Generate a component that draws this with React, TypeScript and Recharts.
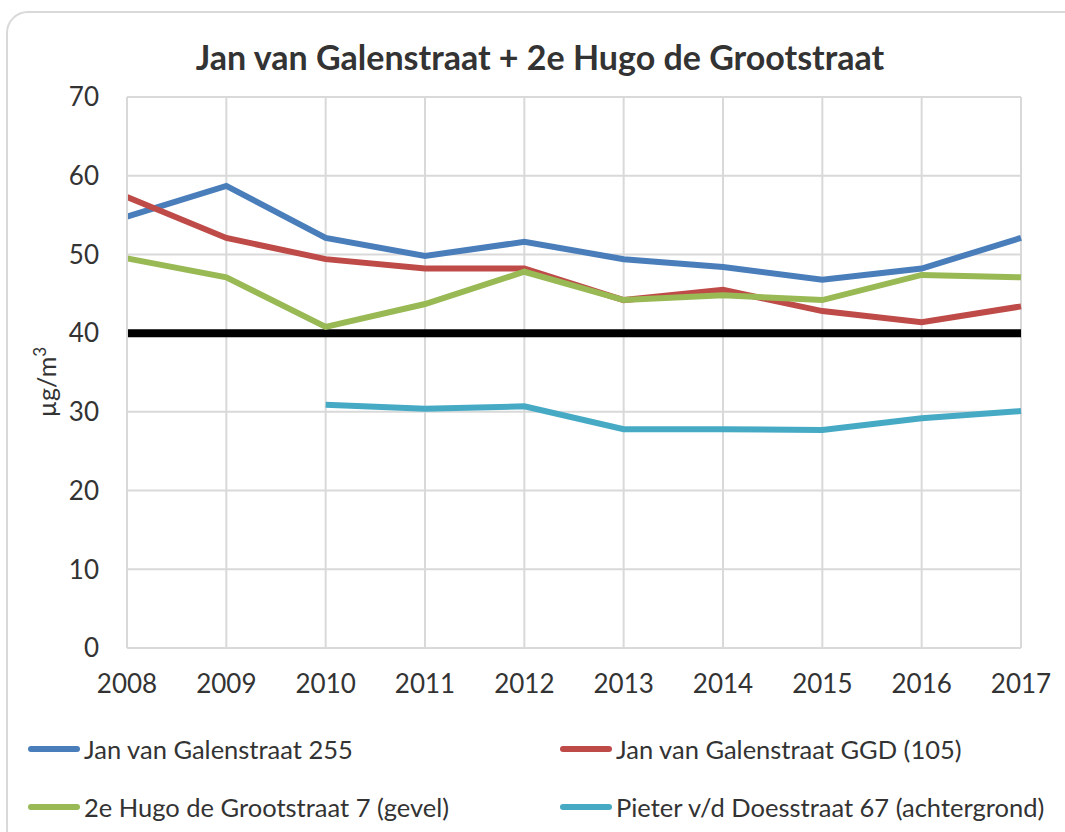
import { LineChart, Line, XAxis, YAxis, CartesianGrid, ReferenceLine } from "recharts";

const years = ["2008", "2009", "2010", "2011", "2012", "2013", "2014", "2015", "2016", "2017"];
const galen255 = [54.8, 58.7, 52.1, 49.8, 51.6, 49.4, 48.4, 46.8, 48.2, 52.1];
const galenGgd = [57.3, 52.1, 49.4, 48.2, 48.2, 44.2, 45.5, 42.8, 41.4, 43.4];
const hugo7 = [49.5, 47.1, 40.8, 43.7, 47.8, 44.2, 44.8, 44.2, 47.4, 47.1];
const doesstraat = [null, null, 30.9, 30.4, 30.7, 27.8, 27.8, 27.7, 29.2, 30.1];
const norm = 40;
const yTicks = [0, 10, 20, 30, 40, 50, 60, 70];

const series = [
  { key: "galen255", name: "Jan van Galenstraat 255", color: "#4a7ebb" },
  { key: "galenGgd", name: "Jan van Galenstraat GGD (105)", color: "#be4b48" },
  { key: "hugo7", name: "2e Hugo de Grootstraat 7 (gevel)", color: "#98b954" },
  { key: "doesstraat", name: "Pieter v/d Doesstraat 67 (achtergrond)", color: "#46aac5" },
];

const data = years.map((year, i) => ({
  year,
  galen255: galen255[i],
  galenGgd: galenGgd[i],
  hugo7: hugo7[i],
  doesstraat: doesstraat[i],
}));

const font = "Lato, 'Open Sans', sans-serif";

export default function App() {
  return (
    <div style={{ position: "absolute", left: 0, top: 0, width: 1065, height: 832, overflow: "hidden", background: "#fff", fontFamily: font }}>
      <div
        style={{
          position: "absolute",
          left: 6,
          top: 11,
          width: 1080,
          height: 840,
          border: "2px solid #d9d9d9",
          borderRadius: 22,
          boxSizing: "border-box",
        }}
      />
      <div
        style={{
          position: "absolute",
          top: 36,
          left: 0,
          width: 1080,
          textAlign: "center",
          fontSize: 34,
          fontWeight: 700,
          color: "#333",
        }}
      >
        Jan van Galenstraat&nbsp;+ 2e Hugo de Grootstraat
      </div>
      <div
        style={{
          position: "absolute",
          left: 45,
          top: 382,
          transform: "translate(-50%, -50%) rotate(-90deg)",
          fontSize: 25,
          color: "#333",
          whiteSpace: "nowrap",
        }}
      >
        µg/m<sup style={{ fontSize: 17 }}>3</sup>
      </div>
      <div style={{ position: "absolute", left: 0, top: 0 }}>
        <LineChart width={1065} height={832} data={data} margin={{ top: 97, left: 67, right: 44, bottom: 154 }}>
          <CartesianGrid stroke="#d9d9d9" strokeWidth={2} />
          <XAxis
            dataKey="year"
            height={30}
            tickLine={false}
            tickSize={0}
            tickMargin={27}
            axisLine={{ stroke: "#d9d9d9", strokeWidth: 2 }}
            tick={{ fill: "#333", fontSize: 26, fontFamily: font }}
            interval={0}
          />
          <YAxis
            width={60}
            domain={[0, 70]}
            ticks={yTicks}
            tickLine={false}
            tickSize={0}
            tickMargin={28}
            axisLine={{ stroke: "#d9d9d9", strokeWidth: 2 }}
            tick={{ fill: "#333", fontSize: 26, fontFamily: font }}
          />
          <ReferenceLine y={norm} stroke="#000" strokeWidth={8} />
          {series.map((s) => (
            <Line
              key={s.key}
              dataKey={s.key}
              name={s.name}
              stroke={s.color}
              strokeWidth={6}
              dot={false}
              isAnimationActive={false}
              type="linear"
            />
          ))}
        </LineChart>
      </div>
      {series.map((s, i) => (
        <div
          key={s.key}
          style={{
            position: "absolute",
            left: i % 2 === 0 ? 28 : 560,
            top: i < 2 ? 734 : 792,
            display: "flex",
            alignItems: "center",
            fontSize: 25.5,
            color: "#333",
            whiteSpace: "nowrap",
          }}
        >
          <span style={{ display: "inline-block", width: 52, height: 6, borderRadius: 3, background: s.color, marginRight: 4 }} />
          {s.name}
        </div>
      ))}
    </div>
  );
}
